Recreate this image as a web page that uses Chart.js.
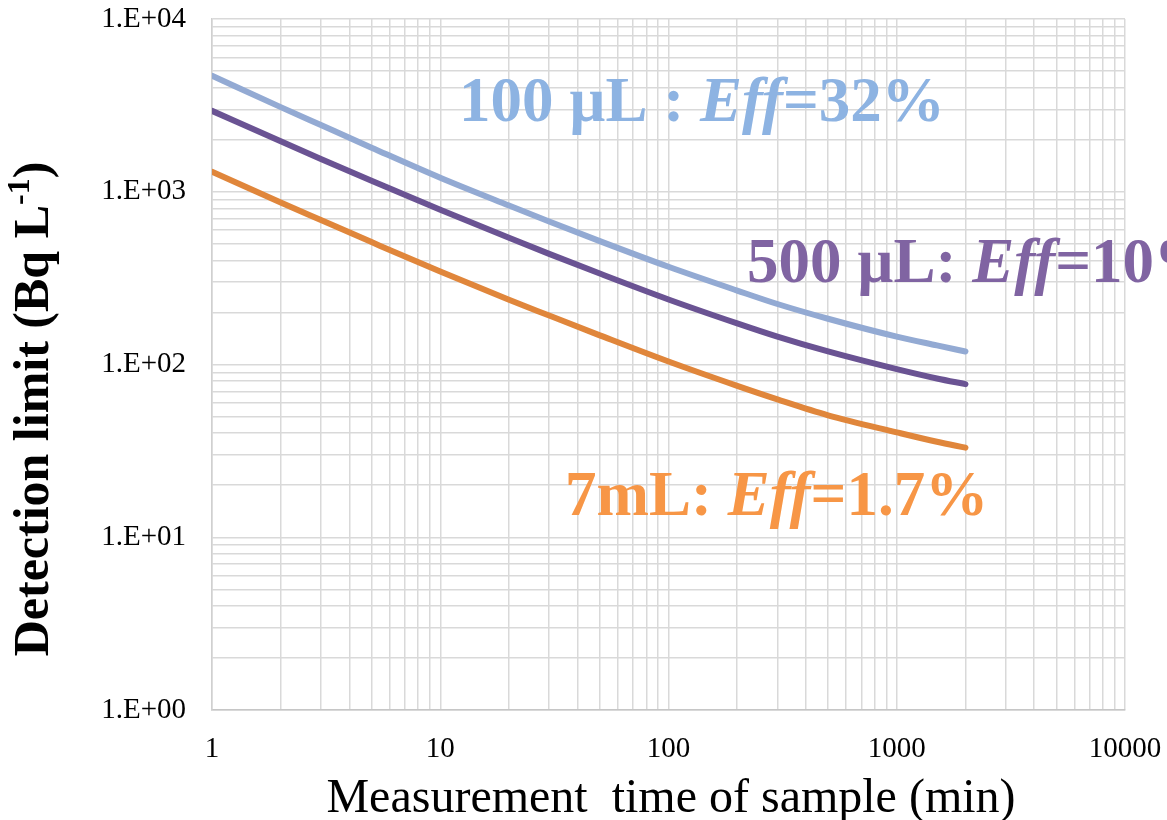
<!DOCTYPE html>
<html>
<head>
<meta charset="utf-8">
<script src="https://cdn.jsdelivr.net/npm/chart.js@4.4.1/dist/chart.umd.min.js"></script>
<style>
  html, body { margin: 0; padding: 0; background: #fff; }
  #wrap { width: 1167px; height: 820px; }
</style>
</head>
<body>
<div id="wrap"><canvas id="chart" width="1167" height="820"></canvas></div>
<script>
// measurement time (min)
const minutes = [1, 2, 3, 5, 10, 20, 30, 50, 100, 200, 300, 500, 1000, 1500, 2000];
// detection limit (Bq/L)
const limit100uL = [4690, 3090, 2432, 1800, 1205, 832, 673, 518, 368, 268, 224, 184, 145, 129, 119];
const limit500uL = [2940, 1959, 1549, 1159, 787, 541, 437, 336, 238, 173, 145, 119, 94, 83, 77];
const limit7mL = [1305, 867, 686, 511, 345, 237, 192, 147.5, 104, 75.2, 62.8, 50.8, 40.5, 35.7, 33];

const xTickLabels = ['1', '10', '100', '1000', '10000'];
const yTickLabels = ['1.E+00', '1.E+01', '1.E+02', '1.E+03', '1.E+04'];

const serif = '"Liberation Serif", "Times New Roman", serif';

// 1..9 in every decade, for the grid
function decadeTicks(min, max) {
  const out = [];
  for (let e = Math.round(Math.log10(min)); Math.pow(10, e) <= max; e++) {
    for (let d = 1; d <= 9; d++) {
      const v = d * Math.pow(10, e);
      if (v >= min && v <= max) out.push({ value: v });
    }
  }
  return out;
}

function decadeLabel(labels) {
  return function (value) {
    const e = Math.log10(value);
    if (Math.abs(e - Math.round(e)) > 1e-9) return '';
    return labels[Math.round(e)] || '';
  };
}

function series(vals) {
  return minutes.map((m, i) => ({ x: m, y: vals[i] }));
}

function runs(ctx, x, y, parts) {
  parts.forEach(p => {
    ctx.font = p.font;
    ctx.fillText(p.t, x, y);
    x += ctx.measureText(p.t).width;
  });
}

const B = 'bold 63px ' + serif;
const BI = 'italic bold 63px ' + serif;

const textPlugin = {
  id: 'texts',
  afterDraw(chart) {
    const ctx = chart.ctx;
    ctx.save();
    ctx.textBaseline = 'alphabetic';
    ctx.textAlign = 'left';

    ctx.fillStyle = '#8db3e2';
    runs(ctx, 459, 121, [{ t: '100 µL : ', font: B }, { t: 'Eff', font: BI }, { t: '=32%', font: B }]);
    ctx.fillStyle = '#8064a2';
    runs(ctx, 747, 282, [{ t: '500 µL: ', font: B }, { t: 'Eff', font: BI }, { t: '=10%', font: B }]);
    ctx.fillStyle = '#f79646';
    runs(ctx, 565, 515, [{ t: '7mL: ', font: B }, { t: 'Eff', font: BI }, { t: '=1.7%', font: B }]);

    // x title
    ctx.fillStyle = '#000';
    ctx.font = '48px ' + serif;
    ctx.textAlign = 'center';
    ctx.fillText('Measurement  time of sample (min)', 671, 812);

    // y title with superscript
    ctx.textAlign = 'left';
    ctx.translate(48, 409);
    ctx.rotate(-Math.PI / 2);
    const main = 'Detection limit (Bq L';
    const sup = '-1';
    const big = 'bold 50px ' + serif;
    const small = 'bold 32px ' + serif;
    ctx.font = big;
    const w1 = ctx.measureText(main).width;
    const w3 = ctx.measureText(')').width;
    ctx.font = small;
    const w2 = ctx.measureText(sup).width;
    let x = -(w1 + w2 + w3) / 2;
    ctx.font = big;
    ctx.fillText(main, x, 0);
    x += w1;
    ctx.font = small;
    ctx.fillText(sup, x, -19);
    x += w2;
    ctx.font = big;
    ctx.fillText(')', x, 0);
    ctx.restore();
  }
};

const lineStyle = {
  borderWidth: 6,
  pointRadius: 0,
  fill: false,
  cubicInterpolationMode: 'monotone',
  borderCapStyle: 'round',
  borderJoinStyle: 'round'
};

new Chart(document.getElementById('chart'), {
  type: 'line',
  data: {
    datasets: [
      { ...lineStyle, label: '100 µL', data: series(limit100uL), borderColor: '#93aad3' },
      { ...lineStyle, label: '500 µL', data: series(limit500uL), borderColor: '#6a5393' },
      { ...lineStyle, label: '7 mL', data: series(limit7mL), borderColor: '#e0863b' }
    ]
  },
  options: {
    responsive: false,
    animation: false,
    layout: { padding: { left: 0, top: 19, right: 42, bottom: 0 } },
    plugins: {
      legend: { display: false },
      tooltip: { enabled: false }
    },
    scales: {
      x: {
        type: 'logarithmic',
        min: 1,
        max: 10000,
        afterBuildTicks: s => { s.ticks = decadeTicks(1, 10000); },
        afterFit: s => { s.height = 110; s.paddingLeft = 0; s.paddingRight = 0; },
        grid: { color: '#d9d9d9', lineWidth: 1.5, drawTicks: false },
        border: { color: '#c6c6c6', width: 1.5 },
        ticks: {
          autoSkip: false,
          maxRotation: 0,
          padding: 22,
          color: '#000',
          font: { family: serif, size: 29 },
          callback: decadeLabel(xTickLabels)
        }
      },
      y: {
        type: 'logarithmic',
        min: 1,
        max: 10000,
        afterBuildTicks: s => { s.ticks = decadeTicks(1, 10000); },
        afterFit: s => { s.width = 212; s.paddingTop = 0; s.paddingBottom = 0; },
        grid: { color: '#d9d9d9', lineWidth: 1.5, drawTicks: false },
        border: { color: '#d0d0d0', width: 1.5 },
        ticks: {
          autoSkip: false,
          padding: 26,
          color: '#000',
          font: { family: serif, size: 29 },
          callback: decadeLabel(yTickLabels)
        }
      }
    }
  },
  plugins: [textPlugin]
});
</script>
</body>
</html>
